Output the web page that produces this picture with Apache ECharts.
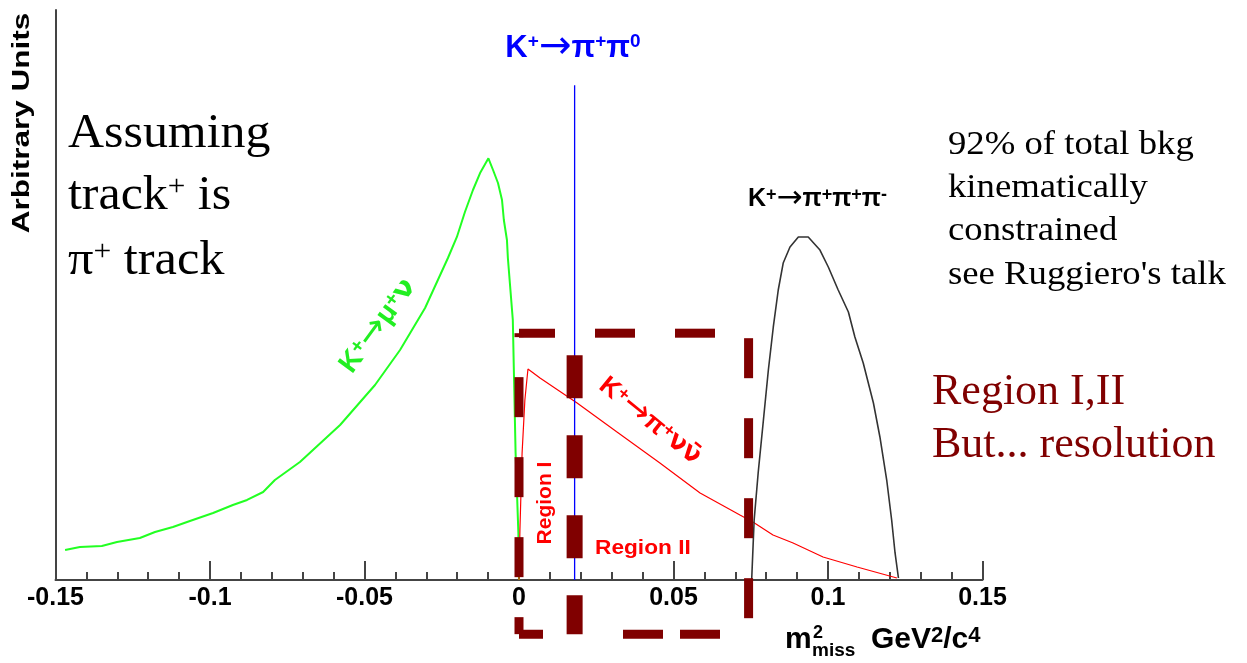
<!DOCTYPE html>
<html><head><meta charset="utf-8">
<script src="https://cdn.jsdelivr.net/npm/echarts@6/dist/echarts.min.js"></script>
<style>html,body{margin:0;padding:0;background:#fff}#c{width:1247px;height:663px}</style>
</head><body><div id="c"></div>
<script>
// ---- axis ----
const xMin = -0.15, xMax = 0.15, xStep = 0.05;
const yMin = 0, yMax = 100;
const xTickLabels = ['-0.15', '-0.1', '-0.05', '0', '0.05', '0.1', '0.15'];

// ---- K+ -> mu+ nu (green) ----
const munuX = [-0.1469,-0.1421,-0.1350,-0.1301,-0.1227,-0.1178,-0.1120,-0.1065,-0.0990,-0.0926,-0.0880,-0.0828,-0.0790,-0.0709,-0.0579,-0.0466,-0.0385,-0.0304,-0.0230,-0.0201,-0.0175,-0.0149,-0.0126,-0.0099,-0.0084,-0.0068,-0.0055,-0.0049,-0.0039,-0.0036,-0.0020,-0.0016,-0.0011,-0.0002,0.0];
const munuY = [5.26,5.79,5.96,6.67,7.37,8.42,9.30,10.35,11.75,13.16,14.04,15.44,17.54,20.70,27.19,34.21,40.35,47.72,56.49,60.18,64.56,68.42,71.40,73.98,71.93,69.65,66.67,63.16,59.65,56.49,45.61,35.09,22.28,8.25,0];

// ---- K+ -> pi+ nu nubar (red) ----
const pinunuX = [0,0.0003,0.0010,0.0019,0.0029,0.0068,0.0188,0.0316,0.0456,0.0586,0.0715,0.0757,0.0822,0.0887,0.0984,0.1094,0.1223];
const pinunuY = [0,8.77,22.28,31.58,37.02,35.44,31.05,26.0,20.53,15.26,11.40,10.18,7.89,6.49,4.04,2.28,0.35];

// ---- K+ -> pi+ pi+ pi- (black) ----
const pipipiX = [0.0753,0.0761,0.0774,0.0791,0.0807,0.0823,0.0839,0.0855,0.0877,0.0904,0.0936,0.0974,0.1001,0.1033,0.1066,0.1087,0.1114,0.1147,0.1168,0.1190,0.1206,0.1217,0.1228];
const pipipiY = [0,10.53,18.77,28.07,36.84,44.39,50.88,55.61,58.42,60.18,60.18,57.89,54.91,50.88,47.02,42.63,38.07,31.05,25.09,17.54,10.53,4.74,0.35];

// ---- K+ -> pi+ pi0 peak position (blue line) ----
const pi0X = 0.018;
const pi0Top = 86.8;

// ---- signal regions box ----
const regionX = [0, 0.018, 0.0743];   // left edge, I/II split, right edge
const regionY = [-9.5, 43.3];         // bottom, top

const zip = (xs, ys) => xs.map((x, i) => [x, ys[i]]);

const MAROON = '#800000';
const SANS = 'Liberation Sans, Arial, sans-serif';
const SERIF = 'Liberation Serif, Times New Roman, serif';
const DEJAVU = 'DejaVu Sans, sans-serif';

function edge(data, w, dash, offset) {
  return {
    type: 'line', data: data, symbol: 'none', clip: false, silent: true, z: 5,
    lineStyle: { color: MAROON, width: w, type: dash, dashOffset: offset, cap: 'butt' }
  };
}

function supRich(F, family, color, weight, supScale) {
  const ss = supScale || 0.62;
  return {
    a: { fontSize: F, fontFamily: family, fill: color, fontWeight: weight },
    s: { fontSize: Math.round(F * ss), fontFamily: family, fill: color, fontWeight: weight,
         verticalAlign: 'top', lineHeight: Math.round(F * 0.36) },
    r: { fontSize: Math.round(F * 1.25), fontFamily: DEJAVU, fill: color, fontWeight: 'normal', lineHeight: F },
    n: { fontSize: F, fontFamily: DEJAVU, fill: color, fontWeight: weight }
  };
}

function txt(x, y, text, opt) {
  return Object.assign({
    type: 'text', x: x, y: y, z: 50,
    style: Object.assign({ text: text, align: 'left', verticalAlign: 'middle' }, opt.style)
  }, opt.el || {});
}

const chart = echarts.init(document.getElementById('c'), null, { renderer: 'canvas' });

const option = {
  animation: false,
  backgroundColor: '#ffffff',
  grid: { left: 55.5, right: 264.5, top: 10, bottom: 83, containLabel: false },
  xAxis: {
    type: 'value', min: xMin, max: xMax, interval: xStep,
    axisLine: { show: true, onZero: false, lineStyle: { color: '#444', width: 2 } },
    axisTick: { show: true, inside: true, length: 19, lineStyle: { color: '#444', width: 2 } },
    minorTick: { show: true, splitNumber: 5, length: 8, lineStyle: { color: '#444', width: 2 } },
    splitLine: { show: false },
    axisLabel: {
      show: true, margin: 6, color: '#000', fontSize: 25, fontWeight: 'bold', fontFamily: SANS,
      formatter: v => xTickLabels[Math.round((v - xMin) / xStep)]
    }
  },
  yAxis: {
    type: 'value', min: yMin, max: yMax,
    axisLine: { show: true, onZero: false, lineStyle: { color: '#444', width: 2 } },
    axisTick: { show: false }, axisLabel: { show: false }, splitLine: { show: false }
  },
  series: [
    { type: 'line', data: zip(munuX, munuY), symbol: 'none', lineStyle: { color: '#22ff22', width: 2 }, z: 2 },
    { type: 'line', data: zip(pinunuX, pinunuY), symbol: 'none', lineStyle: { color: '#ff0000', width: 1.2 }, z: 2 },
    { type: 'line', data: zip(pipipiX, pipipiY), symbol: 'none', lineStyle: { color: '#333', width: 1.6 }, z: 2 },
    { type: 'line', data: [[pi0X, 0], [pi0X, pi0Top]], symbol: 'none', lineStyle: { color: '#0000ff', width: 1.3 }, z: 3 },
    // region box edges
    edge([[regionX[0], regionY[1]], [regionX[2], regionY[1]]], 9, [40, 40], 4),
    edge([[regionX[2], regionY[1]], [regionX[2], regionY[0]]], 9, [40, 40], 75),
    edge([[regionX[0], regionY[0]], [regionX[2], regionY[0]]], 9, [24, 80, 40, 17, 40, 100], 0),
    edge([[regionX[0], regionY[0]], [regionX[0], regionY[1]]], 9, [40, 40], 23),
    edge([[regionX[1], regionY[1]], [regionX[1], regionY[0]]], 16, [43, 37], 58)
  ],
  graphic: [
    // y axis title
    txt(23, 123, 'Arbitrary Units', { style: { align: 'center', fontSize: 23, fontWeight: 'bold', fontFamily: SANS, fill: '#000' },
      el: { rotation: Math.PI / 2, scaleX: 1.37 } }),
    // x axis title
    txt(785, 640, 'm', { style: { fontSize: 30, fontWeight: 'bold', fontFamily: SANS, fill: '#000' } }),
    txt(813, 633, '2', { style: { fontSize: 18, fontWeight: 'bold', fontFamily: SANS, fill: '#000' } }),
    txt(812, 651, 'miss', { style: { fontSize: 19, fontWeight: 'bold', fontFamily: SANS, fill: '#000' } }),
    txt(871, 640, '{a|GeV}{s|2}{a|/c}{s|4}', { style: { rich: supRich(30, SANS, '#000', 'bold', 0.72) } }),
    // blue title
    txt(573, 48, '{a|K}{s|+}{r|→}{a|π}{s|+}{a|π}{s|0}', { style: { align: 'center', rich: supRich(31, SANS, '#0000ff', 'bold') } }),
    // black label
    txt(748, 199, '{a|K}{s|+}{r|→}{a|π}{s|+}{a|π}{s|+}{a|π}{s|-}', { style: { rich: supRich(25, SANS, '#000', 'bold', 0.7) } }),
    // Assuming text
    txt(68, 134, 'Assuming', { style: { fontSize: 48, fontFamily: SERIF, fill: '#000' }, el: { scaleX: 1.04 } }),
    txt(68, 196, '{a|track}{s|+}{a| is}', { style: { rich: supRich(48, SERIF, '#000', 'normal') }, el: { scaleX: 1.04 } }),
    txt(68, 261, '{a|π}{s|+}{a| track}', { style: { rich: supRich(48, SERIF, '#000', 'normal') }, el: { scaleX: 1.05 } }),
    // right notes
    txt(948, 145.5, '92% of total bkg', { style: { fontSize: 34, fontFamily: SERIF, fill: '#000' }, el: { scaleX: 1.08 } }),
    txt(948, 188.5, 'kinematically', { style: { fontSize: 34, fontFamily: SERIF, fill: '#000' }, el: { scaleX: 1.08 } }),
    txt(948, 231.5, 'constrained', { style: { fontSize: 34, fontFamily: SERIF, fill: '#000' }, el: { scaleX: 1.08 } }),
    txt(948, 275.5, "see Ruggiero's talk", { style: { fontSize: 34, fontFamily: SERIF, fill: '#000' }, el: { scaleX: 1.08 } }),
    txt(932, 392, 'Region I,II', { style: { fontSize: 44, fontFamily: SERIF, fill: MAROON } }),
    txt(932, 445, 'But... resolution', { style: { fontSize: 44, fontFamily: SERIF, fill: MAROON } }),
    // curve labels
    txt(378, 326, '{a|K}{s|+}{r|→}{a|μ}{s|+}{n|ν}', { style: { align: 'center', rich: supRich(28, SANS, '#22ee22', 'bold', 0.7) },
      el: { rotation: 0.94 } }),
    txt(650, 421, '{a|K}{s|+}{r|→}{a|π}{s|+}{n|νν̄}', { style: { align: 'center', rich: supRich(26, SANS, '#ff0000', 'bold', 0.7) },
      el: { rotation: -0.68 } }),
    txt(545, 503, 'Region I', { style: { align: 'center', fontSize: 21, fontWeight: 'bold', fontFamily: SANS, fill: '#ff0000' },
      el: { rotation: Math.PI / 2 } }),
    txt(595, 548, 'Region II', { style: { fontSize: 21, fontWeight: 'bold', fontFamily: SANS, fill: '#ff0000' }, el: { scaleX: 1.08 } })
  ]
};
chart.setOption(option);
</script>
</body></html>
